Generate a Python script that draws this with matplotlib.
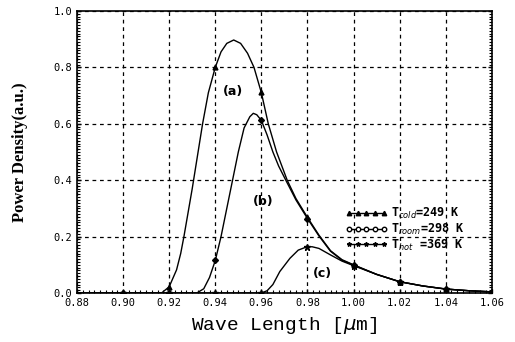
import numpy as np
import matplotlib
matplotlib.use("Agg")
import matplotlib.pyplot as plt
from matplotlib.ticker import MultipleLocator

# curve (a): T_cold = 249 K
x_cold = [0.880, 0.900, 0.9167, 0.920, 0.9232, 0.925, 0.9264, 0.930, 0.9345, 0.937,
          0.940, 0.9425, 0.945, 0.948, 0.951, 0.954, 0.9568, 0.960, 0.963, 0.9666,
          0.9712, 0.975, 0.980, 0.985, 0.990, 0.995, 1.000, 1.010, 1.020, 1.030,
          1.040, 1.050, 1.060]
y_cold = [0.0, 0.0, 0.0, 0.022, 0.082, 0.14, 0.20, 0.37, 0.60, 0.71,
          0.80, 0.855, 0.885, 0.897, 0.885, 0.85, 0.80, 0.71, 0.60, 0.50,
          0.40, 0.335, 0.268, 0.205, 0.150, 0.118, 0.100, 0.066, 0.040, 0.025,
          0.014, 0.008, 0.004]

# curve (b): T_room = 298 K
x_room = [0.880, 0.900, 0.920, 0.932, 0.935, 0.9375, 0.940, 0.9425, 0.945, 0.9475,
          0.950, 0.9525, 0.955, 0.9565, 0.958, 0.960, 0.9625, 0.965, 0.9675, 0.9706,
          0.975, 0.980, 0.985, 0.990, 0.995, 1.000, 1.010, 1.020, 1.030, 1.040,
          1.050, 1.060]
y_room = [0.0, 0.0, 0.0, 0.0, 0.015, 0.055, 0.115, 0.20, 0.30, 0.40,
          0.50, 0.585, 0.625, 0.637, 0.632, 0.612, 0.56, 0.50, 0.45, 0.40,
          0.33, 0.264, 0.202, 0.148, 0.116, 0.099, 0.066, 0.040, 0.025, 0.014,
          0.008, 0.004]

# curve (c): T_hot = 369 K
x_hot = [0.880, 0.900, 0.920, 0.940, 0.960, 0.9625, 0.965, 0.968, 0.9724, 0.976,
         0.9795, 0.982, 0.985, 0.990, 0.995, 1.000, 1.010, 1.020, 1.030, 1.040,
         1.050, 1.060]
y_hot = [0.0, 0.0, 0.0, 0.0, 0.0, 0.008, 0.03, 0.076, 0.123, 0.152,
         0.163, 0.164, 0.158, 0.135, 0.113, 0.097, 0.066, 0.040, 0.025, 0.014,
         0.008, 0.004]

# marker points every 0.02
x_mark = [0.90, 0.92, 0.94, 0.96, 0.98, 1.00, 1.02, 1.04, 1.06]
m_cold = [0.0, 0.022, 0.80, 0.713, 0.268, 0.100, 0.040, 0.014, 0.004]
m_room = [0.0, 0.0, 0.117, 0.612, 0.264, 0.099, 0.040, 0.014, 0.004]
m_hot = [0.0, 0.0, 0.0, 0.0, 0.163, 0.097, 0.040, 0.014, 0.004]

xticks = [0.88, 0.90, 0.92, 0.94, 0.96, 0.98, 1.00, 1.02, 1.04, 1.06]
yticks = [0.0, 0.2, 0.4, 0.6, 0.8, 1.0]

fig = plt.figure(figsize=(5.15, 3.42), dpi=100)
ax = fig.add_axes([0.1495, 0.1433, 0.8055, 0.8247])

ax.plot(x_cold, y_cold, color='k', lw=1.0)
ax.plot(x_room, y_room, color='k', lw=1.0)
ax.plot(x_hot, y_hot, color='k', lw=1.0)
ax.plot(x_mark, m_cold, ls='none', marker='^', ms=3.5, color='k')
ax.plot(x_mark, m_room, ls='none', marker='D', ms=3, color='k')
ax.plot(x_mark, m_hot, ls='none', marker='*', ms=4.5, color='k')

# legend rows
leg_lab = ['T$_{cold}$=249 K', 'T$_{room}$=298 K', 'T$_{hot}$ =369 K']
leg_mk = ['^', 'o', '*']
for i in range(3):
    ax.plot([], [], color='k', lw=1.0, marker=leg_mk[i], ms=3.2,
            mfc='k' if i != 1 else 'w', label=leg_lab[i])
lg = ax.legend(loc='upper left', bbox_to_anchor=(0.635, 0.325), frameon=False,
               numpoints=5, handlelength=3.6, handletextpad=0.3, labelspacing=0.05,
               borderaxespad=0.0,
               prop={'family': 'DejaVu Sans Mono', 'weight': 'bold', 'size': 8.5})

ax.text(0.9477, 0.714, '(a)', fontsize=9, fontweight='bold', ha='center',
        va='center', family='DejaVu Sans')
ax.text(0.961, 0.324, '(b)', fontsize=9, fontweight='bold', ha='center',
        va='center', family='DejaVu Sans')
ax.text(0.9865, 0.07, '(c)', fontsize=9, fontweight='bold', ha='center',
        va='center', family='DejaVu Sans')

ax.set_xlim(0.88, 1.06)
ax.set_ylim(0.0, 1.0)
ax.set_xticks(xticks)
ax.set_xticklabels(['%.2f' % v for v in xticks], family='DejaVu Sans Mono', fontsize=7.5)
ax.set_yticks(yticks)
ax.set_yticklabels(['%.1f' % v for v in yticks], family='DejaVu Sans Mono', fontsize=7.5)
ax.xaxis.set_minor_locator(MultipleLocator(0.0025))
ax.yaxis.set_minor_locator(MultipleLocator(0.01))
ax.tick_params(which='major', direction='in', length=3, width=1, right=True)
ax.tick_params(which='minor', direction='in', length=2, width=0.8, right=True)
ax.grid(True, which='major', color='k', ls=(0, (3, 3)), lw=0.9)
for s in ax.spines.values():
    s.set_linewidth(1.2)

ax.set_xlabel('Wave Length [$\\mu$m]', family='Liberation Mono', fontsize=14,
              labelpad=5)
ax.set_ylabel('Power Density(a.u.)', family='Liberation Serif', fontweight='bold',
              fontsize=12, labelpad=18)

fig.savefig('out.png', dpi=100)
